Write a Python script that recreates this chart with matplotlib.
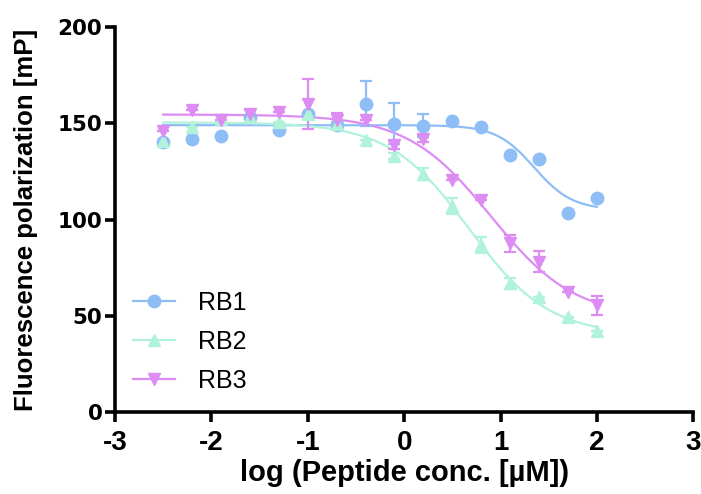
import numpy as np
import matplotlib
matplotlib.use("Agg")
import matplotlib.pyplot as plt

# ---- data ----
log_conc = [-2.5, -2.2, -1.9, -1.6, -1.3, -1.0, -0.7, -0.4, -0.1, 0.2, 0.5, 0.8, 1.1, 1.4, 1.7, 2.0]

rb1 = [140.4, 141.8, 143.5, 153.4, 146.8, 155.1, 149.1, 160.3, 149.9, 148.7, 151.3, 147.9, 133.5, 131.4, 103.2, 111.0]
rb1_err = [0, 0, 0, 0, 0, 0, 1.5, 11.7, 10.7, 6.0, 0, 0, 0, 0, 0, 0]

rb2 = [140.7, 148.2, 152.2, 153.4, 150.8, 155.1, 149.9, 141.3, 132.9, 123.6, 107.0, 86.7, 66.8, 59.9, 49.2, 42.2]
rb2_err = [0, 0, 1.5, 0, 0, 0, 0, 0, 1.5, 3.0, 4.0, 4.0, 3.0, 0, 0, 0]

rb3 = [146.1, 156.8, 151.6, 155.1, 156.0, 160.3, 152.0, 152.0, 138.7, 142.1, 120.8, 110.1, 87.6, 78.0, 62.5, 55.5]
rb3_err = [0, 0, 0, 2.0, 0, 13.0, 3.5, 0, 2.0, 2.0, 0, 0, 4.5, 5.5, 0, 5.0]

series_names = ["RB1", "RB2", "RB3"]
colors = ["#8fbdf6", "#b0f2da", "#dc8cf2"]
markers = ["o", "^", "v"]

xticks = [-3, -2, -1, 0, 1, 2, 3]
yticks = [0, 50, 100, 150, 200]


def fit_4pl(x, y):
    """Grid search over logIC50 and Hill slope, linear solve for top/bottom."""
    x = np.asarray(x, float)
    y = np.asarray(y, float)
    best = None
    for c in np.linspace(-1.5, 3.0, 181):
        for h in np.linspace(0.3, 4.0, 75):
            f = 1.0 / (1.0 + 10 ** ((x - c) * h))
            A = np.column_stack([np.ones_like(f), f])
            coef, *_ = np.linalg.lstsq(A, y, rcond=None)
            r = np.sum((A @ coef - y) ** 2)
            if best is None or r < best[0]:
                best = (r, c, h, coef)
    _, c, h, (b, a) = best
    return lambda xx: b + a / (1.0 + 10 ** ((xx - c) * h))


plt.rcParams['font.family'] = ['Liberation Sans', 'DejaVu Sans']
fig = plt.figure(figsize=(7.01, 4.94), dpi=100)
ax = fig.add_axes([0.164, 0.166, 0.825, 0.779])

xs = np.linspace(min(log_conc), max(log_conc), 300)
for name, ys, err, col, mk in zip(series_names, [rb1, rb2, rb3], [rb1_err, rb2_err, rb3_err], colors, markers):
    f = fit_4pl(log_conc, ys)
    ax.plot(xs, f(xs), color=col, lw=1.6, zorder=2)
    ax.errorbar(log_conc, ys, yerr=err, fmt=mk, color=col, ms=9, mec=col,
                elinewidth=1.6, capsize=4.3, capthick=1.6, zorder=3)
    ax.plot([], [], color=col, lw=1.6, marker=mk, ms=9, label=name)

ax.set_xlim(-3, 3)
ax.set_ylim(0, 200)
ax.set_xticks(xticks)
ax.set_yticks(yticks)
ax.set_xticklabels([str(t) for t in xticks], fontsize=20, fontweight="bold")
ax.set_yticklabels([str(t) for t in yticks], fontsize=15.5, fontweight="bold",
                   family=["DejaVu Sans"])
for s in ["top", "right"]:
    ax.spines[s].set_visible(False)
for s in ["left", "bottom"]:
    ax.spines[s].set_linewidth(2.6)
ax.tick_params(axis="both", width=2.6, length=7)
ax.tick_params(axis="x", pad=6)
ax.tick_params(axis="y", pad=2)

ax.set_xlabel("log (Peptide conc. [µM])", fontsize=21, fontweight="bold", labelpad=2)
ax.set_ylabel("Fluorescence polarization [mP]", fontsize=18.5, fontweight="bold", labelpad=14)

ax.legend(loc="lower left", bbox_to_anchor=(0.031, 0.049), frameon=False, fontsize=18,
          handlelength=1.68, labelspacing=0.6, handletextpad=0.92,
          borderaxespad=0, borderpad=0)

fig.savefig("out.png", dpi=100)
